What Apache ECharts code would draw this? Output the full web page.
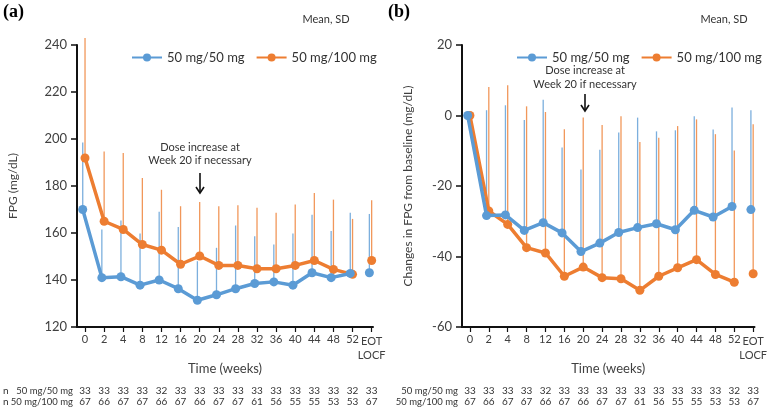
<!DOCTYPE html>
<html>
<head>
<meta charset="utf-8">
<script src="https://cdn.jsdelivr.net/npm/echarts@6/dist/echarts.min.js"></script>
<style>
  html, body { margin: 0; padding: 0; background: #fff; }
  #chart { width: 770px; height: 410px; }
</style>
</head>
<body>
<div id="chart"></div>
<script>
// time points (x axis)
const weeks = ['0', '2', '4', '8', '12', '16', '20', '24', '28', '32', '36', '40', '44', '48', '52', 'EOT\nLOCF']

// (a) FPG, mean and mean+SD
const fpg50Mean = [170, 141, 141.4, 137.8, 140, 136.3, 131.4, 133.7, 136.3, 138.5, 139.2, 137.8, 143.1, 141, 142.8, 143.1]
const fpg50Top = [198.5, 161.5, 165.3, 159.8, 169, 162.6, 148, 153.7, 163.2, 158.6, 155.1, 159.8, 167.8, 160.8, 168.6, 168.1]
const fpg100Mean = [191.9, 165, 161.5, 155.1, 152.7, 146.7, 150.2, 146.2, 146.2, 144.8, 144.8, 146.2, 148.3, 144.5, 142.4, 148.3]
const fpg100Top = [243, 194.7, 194, 183.4, 178.4, 171.4, 173.2, 171.4, 171.8, 170.7, 168.6, 172.1, 177, 174.2, 166, 173.9]

// (b) change from baseline, mean and mean+SD
const chg50Mean = [0, -28.4, -28.2, -32.6, -30.4, -33.3, -38.6, -36.2, -33.2, -31.8, -30.7, -32.4, -26.9, -28.8, -25.8, -26.7]
const chg50Top = [0, 1.5, 2.9, -1.3, 4.5, -9.1, -15.3, -9.7, -4.8, -0.6, -4.5, -4.2, -0.2, -4, 2.3, 1.5]
const chg100Mean = [0, -27.1, -30.9, -37.5, -39, -45.6, -43, -46, -46.3, -49.6, -45.6, -43.2, -40.9, -45.1, -47.3, -44.9]
const chg100Top = [0, 8.1, 8.6, 2.6, 1.0, -3.9, -0.6, -2.7, -0.2, -7.5, -6.3, -3.0, -1.1, -5.3, -9.9, -2.5]

// number of patients
const n50 = [33, 33, 33, 33, 32, 33, 33, 33, 33, 33, 33, 33, 33, 33, 32, 33]
const n100 = [67, 66, 67, 67, 66, 67, 66, 67, 67, 61, 56, 55, 55, 53, 53, 67]

const blue = '#5B9BD5'
const orange = '#ED7D31'
const txt = '#404040'
const font = 'Lato'
const XMIN = -0.42
const XMAX = 15.07
const idx = weeks.map((w, i) => i)
const last = weeks.length - 1
const NX = 4 // x axes per grid

const chart = echarts.init(document.getElementById('chart'))

const mainX = (g) => ({
  type: 'value',
  gridIndex: g,
  min: XMIN,
  max: XMAX,
  name: 'Time (weeks)',
  nameLocation: 'middle',
  nameGap: 35,
  nameTextStyle: { fontSize: 13, color: txt, fontFamily: font },
  axisLine: { onZero: false, lineStyle: { color: '#111', width: 2 } },
  axisTick: { customValues: idx, length: 5, lineStyle: { color: '#111', width: 1.2 } },
  axisLabel: {
    customValues: idx.slice(0, last),
    formatter: (v) => weeks[Math.round(v)],
    showMinLabel: true,
    fontSize: 11,
    color: txt,
    fontFamily: font,
    margin: 7
  },
  splitLine: { show: false }
})

// last tick label on its own axis so it does not hide "52"
const eotX = (g) => ({
  type: 'value',
  gridIndex: g,
  min: XMIN,
  max: XMAX,
  position: 'bottom',
  axisLine: { show: false, onZero: false },
  axisTick: { show: false },
  splitLine: { show: false },
  axisLabel: {
    customValues: [last],
    formatter: (v) => weeks[Math.round(v)],
    showMaxLabel: true,
    fontSize: 11,
    color: txt,
    fontFamily: font,
    margin: 7,
    lineHeight: 14,
    align: 'center'
  }
})

const nX = (g, arr, offset) => ({
  type: 'value',
  gridIndex: g,
  min: XMIN,
  max: XMAX,
  position: 'bottom',
  offset: offset,
  axisLine: { show: false, onZero: false },
  axisTick: { show: false },
  splitLine: { show: false },
  axisLabel: {
    customValues: idx,
    formatter: (v) => String(arr[Math.round(v)]),
    showMinLabel: true,
    showMaxLabel: true,
    fontSize: 10,
    color: '#333',
    fontFamily: font,
    margin: 0
  }
})

const yAx = (g, min, max, name, gap) => ({
  type: 'value',
  gridIndex: g,
  min: min,
  max: max,
  interval: 20,
  name: name,
  nameLocation: 'middle',
  nameGap: gap,
  nameTextStyle: { fontSize: 12, color: txt, fontFamily: font },
  axisLine: { show: true, onZero: false, lineStyle: { color: '#111', width: 2 } },
  axisTick: { show: true, length: 6, lineStyle: { color: '#111', width: 1.5 } },
  axisLabel: { fontSize: 13, color: txt, fontFamily: font, margin: 10 },
  splitLine: { show: false }
})

// error bar: only the upper half (mean -> mean+SD)
const errBars = (g, mean, top, color, dx) => ({
  type: 'custom',
  name: 'sd',
  xAxisIndex: g * NX,
  yAxisIndex: g,
  z: 1,
  silent: true,
  data: mean.map((m, i) => [i + dx, m, top[i]]),
  renderItem: function (params, api) {
    const a = api.coord([api.value(0), api.value(1)])
    const b = api.coord([api.value(0), api.value(2)])
    return {
      type: 'line',
      shape: { x1: a[0], y1: a[1], x2: b[0], y2: b[1] },
      style: { stroke: color, lineWidth: 1.3, opacity: 0.8 }
    }
  }
})

const lineSer = (g, name, mean, color, dx, z) => ({
  type: 'line',
  name: name,
  xAxisIndex: g * NX,
  yAxisIndex: g,
  z: z,
  data: mean.slice(0, last).map((m, i) => [i + dx, m]),
  color: color,
  symbol: 'circle',
  symbolSize: 9,
  lineStyle: { width: 3.5, color: color },
  itemStyle: { color: color },
  emphasis: { disabled: true },
  animation: false
})

const eotPt = (g, mean, color, dx, z) => ({
  type: 'scatter',
  name: 'eot',
  xAxisIndex: g * NX,
  yAxisIndex: g,
  z: z,
  data: [[last + dx, mean[last]]],
  symbol: 'circle',
  symbolSize: 9,
  itemStyle: { color: color, opacity: 1 },
  animation: false
})

const legendFor = (left) => ({
  left: left,
  top: 46,
  data: ['50 mg/50 mg', '50 mg/100 mg'],
  itemWidth: 30,
  itemHeight: 10,
  itemGap: 11,
  selectedMode: false,
  textStyle: { fontSize: 13, color: '#333', fontFamily: font }
})

const t = (x, y, s) => ({
  type: 'text',
  x: x,
  y: y,
  style: { text: s, fontSize: 11, fill: '#333', fontFamily: font, align: 'center', verticalAlign: 'middle' }
})

const arrow = (x, y1, y2) => ([
  { type: 'line', shape: { x1: x, y1: y1, x2: x, y2: y2 }, style: { stroke: '#111', lineWidth: 1.6 } },
  { type: 'polyline', shape: { points: [[x - 4, y2 - 6], [x, y2], [x + 4, y2 - 6]] }, style: { stroke: '#111', lineWidth: 1.6, fill: null } }
])

const hdr = (x, y, s) => ({
  type: 'text', x: x, y: y,
  style: { text: s, fontSize: 9.5, fill: '#333', fontFamily: font, align: 'right', verticalAlign: 'middle' }
})

const option = {
  animation: false,
  backgroundColor: '#fff',
  grid: [
    { left: 77, top: 45, width: 296, height: 282 },
    { left: 462, top: 45, width: 296, height: 282 }
  ],
  legend: [legendFor(126), legendFor(511)],
  xAxis: [
    mainX(0), eotX(0), nX(0, n50, 59), nX(0, n100, 70),
    mainX(1), eotX(1), nX(1, n50, 59), nX(1, n100, 70)
  ],
  yAxis: [
    yAx(0, 120, 240, 'FPG (mg/dL)', 58),
    yAx(1, -60, 20, 'Changes in FPG from baseline (mg/dL)', 48)
  ],
  series: [
    errBars(0, fpg100Mean, fpg100Top, orange, 0),
    errBars(0, fpg50Mean, fpg50Top, blue, -0.12),
    lineSer(0, '50 mg/100 mg', fpg100Mean, orange, 0, 3),
    lineSer(0, '50 mg/50 mg', fpg50Mean, blue, -0.12, 4),
    eotPt(0, fpg100Mean, orange, 0, 3),
    eotPt(0, fpg50Mean, blue, -0.12, 4),

    errBars(1, chg100Mean, chg100Top, orange, 0),
    errBars(1, chg50Mean, chg50Top, blue, -0.12),
    lineSer(1, '50 mg/100 mg', chg100Mean, orange, 0, 3),
    lineSer(1, '50 mg/50 mg', chg50Mean, blue, -0.12, 4),
    eotPt(1, chg100Mean, orange, 0, 3),
    eotPt(1, chg50Mean, blue, -0.12, 4)
  ],
  graphic: [
    { type: 'text', x: 3, y: 3, style: { text: '(a)', fontSize: 18, fontWeight: 'bold', fill: '#000', fontFamily: 'Liberation Serif' } },
    { type: 'text', x: 388, y: 3, style: { text: '(b)', fontSize: 18, fontWeight: 'bold', fill: '#000', fontFamily: 'Liberation Serif' } },
    t(326, 19, 'Mean, SD'),
    t(724, 19, 'Mean, SD'),
    t(200, 147, 'Dose increase at'),
    t(200, 160, 'Week 20 if necessary'),
    t(585, 70, 'Dose increase at'),
    t(585, 84, 'Week 20 if necessary'),
    ...arrow(200, 173, 193),
    ...arrow(585, 94, 111),
    { type: 'text', x: 3, y: 391, style: { text: 'n', fontSize: 10, fill: '#333', fontFamily: font, verticalAlign: 'middle' } },
    { type: 'text', x: 3, y: 402, style: { text: 'n', fontSize: 10, fill: '#333', fontFamily: font, verticalAlign: 'middle' } },
    hdr(73, 391, '50 mg/50 mg'),
    hdr(73, 402, '50 mg/100 mg'),
    hdr(458, 391, '50 mg/50 mg'),
    hdr(458, 402, '50 mg/100 mg')
  ]
}

chart.setOption(option)
</script>
</body>
</html>
